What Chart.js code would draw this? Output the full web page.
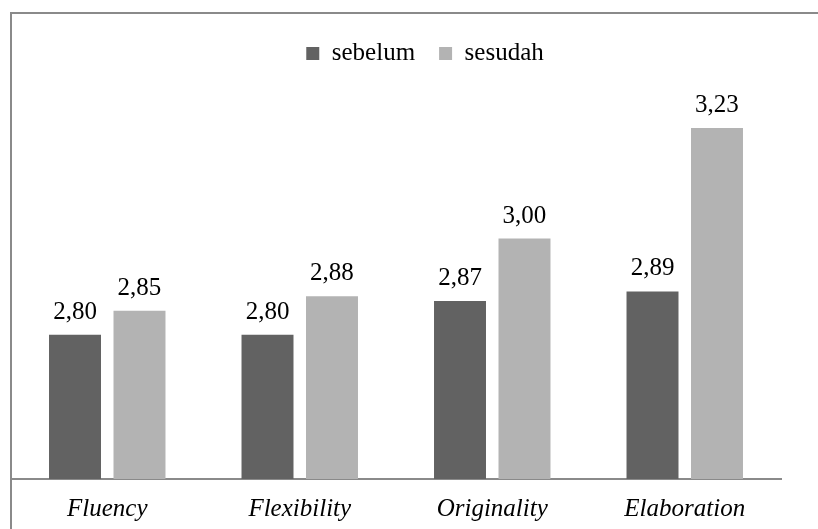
<!DOCTYPE html>
<html>
<head>
<meta charset="utf-8">
<script src="https://cdn.jsdelivr.net/npm/chart.js@4.4.1/dist/chart.umd.min.js"></script>
<style>
  html, body { margin: 0; padding: 0; background: #fff; }
  #wrap { position: relative; width: 818px; height: 529px; overflow: hidden; }
  #marco {
    position: absolute; left: 10px; top: 12px; width: 900px; height: 600px;
    border-left: 2px solid #8a8a8a; border-top: 2px solid #8a8a8a;
    box-sizing: border-box; pointer-events: none;
  }
  canvas { position: absolute; left: 0; top: 0; }
</style>
</head>
<body>
<div id="wrap">
  <canvas id="grafico" width="818" height="529"></canvas>
  <div id="marco"></div>
</div>
<script>
// =====================
// Datos
// =====================
const categorias = ["Fluency", "Flexibility", "Originality", "Elaboration"];
const sebelum = [2.80, 2.80, 2.87, 2.89];
const sesudah = [2.85, 2.88, 3.00, 3.23];

const colorSebelum = "#626262";
const colorSesudah = "#b3b3b3";
const fuente = "'Liberation Serif', 'Times New Roman', serif";

// =====================
// Etiquetas de valor (coma decimal)
// =====================
const etiquetasValor = {
  id: "etiquetasValor",
  afterDatasetsDraw(chart) {
    const ctx = chart.ctx;
    ctx.save();
    ctx.font = "25px " + fuente;
    ctx.fillStyle = "#000";
    ctx.textAlign = "center";
    ctx.textBaseline = "alphabetic";
    chart.data.datasets.forEach((ds, i) => {
      chart.getDatasetMeta(i).data.forEach((bar, j) => {
        const txt = ds.data[j].toFixed(2).replace(".", ",");
        ctx.fillText(txt, bar.x, bar.y - 16);
      });
    });
    ctx.restore();
  }
};

// la leyenda original está algo a la derecha del centro del área
const moverLeyenda = {
  id: "moverLeyenda",
  afterLayout(chart) {
    chart.legend.left += 29;
    chart.legend.right += 29;
  }
};

function dibujar() {
  new Chart(document.getElementById("grafico"), {
    type: "bar",
    data: {
      labels: categorias,
      datasets: [
        { label: "sebelum", data: sebelum, backgroundColor: colorSebelum,
          categoryPercentage: 0.67, barPercentage: 0.806 },
        { label: "sesudah", data: sesudah, backgroundColor: colorSesudah,
          categoryPercentage: 0.67, barPercentage: 0.806 }
      ]
    },
    options: {
      responsive: false,
      animation: false,
      layout: { padding: { left: 11, right: 37, top: 17, bottom: 5 } },
      plugins: {
        legend: {
          position: "top",
          labels: {
            font: { family: fuente, size: 25 },
            color: "#000",
            boxWidth: 13,
            boxHeight: 13,
            padding: 24
          }
        },
        tooltip: { enabled: false }
      },
      scales: {
        x: {
          grid: { display: false, drawTicks: false },
          border: { display: true, color: "#8a8a8a", width: 2 },
          ticks: {
            padding: 15,
            color: "#000",
            font: { family: fuente, size: 25, style: "italic" }
          },
          afterFit: (escala) => { escala.height = 45; }
        },
        y: { display: false, min: 2.5, max: 3.338 }
      }
    },
    plugins: [etiquetasValor, moverLeyenda]
  });
}

Promise.all([
  document.fonts.load("25px 'Liberation Serif'"),
  document.fonts.load("italic 25px 'Liberation Serif'")
]).then(dibujar, dibujar);
</script>
</body>
</html>
